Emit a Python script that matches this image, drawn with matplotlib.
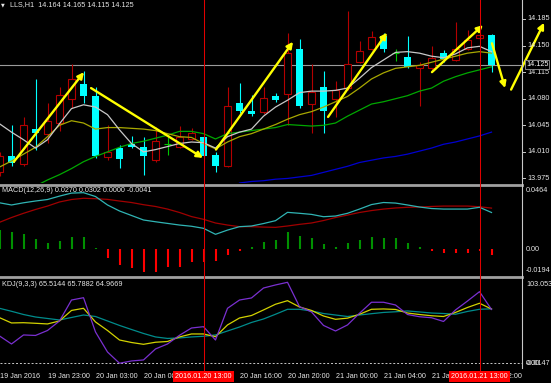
import numpy as np
import matplotlib.pyplot as plt
from matplotlib.lines import Line2D
from matplotlib.transforms import blended_transform_factory

plt.rcParams['font.family'] = ['Liberation Sans', 'DejaVu Sans']

W, H = 551, 383
AXIS_X = 522  # pixel where the price scale starts
FS = 5.2
TXT = '#e6e6e6'

# H1 candles, index 0 = 19 Jan 2016 19:00
opens = [13.983, 14.005, 13.994, 14.040, 14.034, 14.048, 14.079, 14.100, 14.083, 14.003,
         14.015, 14.021, 14.016, 13.999, 14.020, 14.017, 14.027, 14.030, 14.006, 13.992,
         14.075, 14.064, 14.063, 14.083, 14.086, 14.145, 14.073, 14.095, 14.079, 14.094,
         14.129, 14.146, 14.162, 14.140, 14.135, 14.120, 14.120, 14.140, 14.131, 14.146,
         14.160, 14.164]
highs = [14.010, 14.046, 14.056, 14.106, 14.075, 14.096, 14.126, 14.116, 14.096, 14.046,
         14.019, 14.031, 14.029, 14.043, 14.030, 14.044, 14.041, 14.031, 14.010, 14.096,
         14.101, 14.085, 14.096, 14.088, 14.166, 14.158, 14.126, 14.116, 14.103, 14.196,
         14.156, 14.169, 14.167, 14.145, 14.162, 14.129, 14.149, 14.144, 14.181, 14.171,
         14.172, 14.165]
lows = [13.978, 13.992, 13.992, 14.013, 14.022, 14.037, 14.068, 14.074, 14.002, 13.999,
        13.989, 14.015, 13.980, 13.997, 14.006, 14.015, 14.025, 14.003, 13.984, 13.990,
        14.061, 14.057, 14.060, 14.076, 14.046, 14.068, 14.035, 14.035, 14.056, 14.092,
        14.127, 14.144, 14.142, 14.130, 14.120, 14.070, 14.116, 14.129, 14.130, 14.144,
        14.157, 14.115]
closes = [14.004, 13.995, 14.045, 14.035, 14.051, 14.085, 14.106, 14.084, 14.004, 14.010,
          14.000, 14.017, 14.004, 14.024, 14.020, 14.030, 14.035, 14.005, 13.992, 14.071,
          14.064, 14.060, 14.081, 14.078, 14.140, 14.071, 14.089, 14.064, 14.091, 14.126,
          14.143, 14.161, 14.145, 14.140, 14.122, 14.125, 14.134, 14.132, 14.146, 14.157,
          14.164, 14.125]

# moving averages
ma_fast = [14.047, 14.036, 14.026, 14.015, 14.026, 14.047, 14.067, 14.072, 14.069, 14.059,
           14.039, 14.021, 14.010, 14.013, 14.017, 14.021, 14.023, 14.022, 14.015, 14.030,
           14.036, 14.040, 14.057, 14.069, 14.078, 14.088, 14.090, 14.090, 14.091, 14.094,
           14.107, 14.121, 14.131, 14.141, 14.142, 14.140, 14.136, 14.134, 14.139, 14.147,
           14.149, 14.142]
ma_mid = [13.990, 13.998, 14.007, 14.016, 14.030, 14.045, 14.051, 14.048, 14.040, 14.042,
          14.042, 14.041, 14.040, 14.038, 14.034, 14.030, 14.029, 14.021, 14.014, 14.023,
          14.030, 14.034, 14.040, 14.046, 14.053, 14.059, 14.063, 14.069, 14.076, 14.083,
          14.094, 14.106, 14.114, 14.120, 14.122, 14.124, 14.128, 14.132, 14.136, 14.140,
          14.142, 14.140]
ma_slow = [np.nan, np.nan, np.nan, 13.965, 13.973, 13.980, 13.988, 13.997, 14.004, 14.010,
           14.016, 14.021, 14.024, 14.028, 14.032, 14.037, 14.037, 14.034, 14.027, 14.034,
           14.036, 14.038, 14.040, 14.042, 14.046, 14.045, 14.044, 14.045, 14.048, 14.057,
           14.065, 14.073, 14.076, 14.080, 14.084, 14.090, 14.094, 14.103, 14.109, 14.114,
           14.118, 14.122]
ma_long = [np.nan] * 20 + [13.969, 13.971, 13.972, 13.974, 13.975, 13.977, 13.979, 13.983,
                           13.987, 13.991, 13.996, 13.999, 14.002, 14.004, 14.007, 14.011,
                           14.015, 14.020, 14.023, 14.027, 14.031, 14.036]

# drawn trend arrows (candle index, price)
arrow_x0 = [1.2, 7.63, 18.04, 27.38, 36.04, 41.04, 42.63]
arrow_y0 = [13.997, 14.094, 14.013, 14.056, 14.115, 14.153, 14.092]
arrow_x1 = [7.04, 16.96, 24.46, 32.29, 40.29, 42.13, 45.38]
arrow_y1 = [14.115, 14.002, 14.155, 14.167, 14.177, 14.094, 14.180]

price_ticks = [14.185, 14.150, 14.115, 14.080, 14.045, 14.010, 13.975]
last_price = 14.125

# MACD(12,26,9)
macd_hist = [0.0140, 0.0129, 0.0110, 0.0075, 0.0048, 0.0063, 0.0092, 0.0092, 0.0010, -0.0062,
             -0.0115, -0.0139, -0.0164, -0.0164, -0.0132, -0.0132, -0.0091, -0.0091, -0.0084, -0.0042,
             -0.0010, 0.0019, 0.0051, 0.0068, 0.0129, 0.0097, 0.0081, 0.0039, 0.0019, 0.0044,
             0.0068, 0.0092, 0.0085, 0.0081, 0.0048, 0.0019, -0.0010, -0.0025, -0.0025, -0.0025,
             -0.0010, -0.0041]
macd_main = [0.0341, 0.0325, 0.0341, 0.0354, 0.0365, 0.0390, 0.0412, 0.0415, 0.0387, 0.0325,
             0.0281, 0.0248, 0.0215, 0.0202, 0.0190, 0.0178, 0.0169, 0.0154, 0.0110, 0.0141,
             0.0166, 0.0171, 0.0189, 0.0210, 0.0271, 0.0264, 0.0256, 0.0239, 0.0244, 0.0264,
             0.0295, 0.0328, 0.0343, 0.0339, 0.0325, 0.0310, 0.0299, 0.0295, 0.0295, 0.0295,
             0.0308, 0.0270]
macd_signal = [0.0198, 0.0233, 0.0264, 0.0292, 0.0317, 0.0347, 0.0365, 0.0374, 0.0371, 0.0366,
               0.0354, 0.0343, 0.0327, 0.0314, 0.0295, 0.0270, 0.0240, 0.0220, 0.0193, 0.0178,
               0.0166, 0.0166, 0.0163, 0.0161, 0.0171, 0.0183, 0.0193, 0.0211, 0.0233, 0.0251,
               0.0270, 0.0284, 0.0295, 0.0303, 0.0308, 0.0310, 0.0314, 0.0317, 0.0317, 0.0317,
               0.0312, 0.0302]

# KDJ(9,3,3)
kdj_j = [33.0, 23.3, 34.2, 33.6, 39.6, 51.1, 76.4, 79.2, 37.8, 13.6,
         0.0, 2.8, 4.0, 17.3, 23.3, 33.8, 42.6, 44.2, 28.1, 66.4,
         76.4, 78.9, 90.9, 94.6, 97.8, 68.4, 62.0, 45.7, 39.0, 46.3,
         60.4, 73.7, 73.7, 70.4, 58.9, 56.2, 55.0, 50.5, 64.4, 75.2,
         86.5, 64.97]
kdj_k = [55.1, 48.7, 49.0, 48.3, 47.5, 51.1, 63.8, 66.4, 49.9, 39.6,
         28.1, 25.1, 22.9, 25.4, 26.3, 31.8, 35.4, 35.4, 32.1, 46.3,
         54.7, 57.7, 64.4, 71.3, 75.6, 68.0, 63.8, 57.1, 53.1, 54.5,
         59.2, 65.2, 65.6, 65.0, 60.7, 58.9, 57.4, 56.5, 61.4, 67.4,
         72.5, 65.51]
kdj_d = [66.4, 62.8, 58.9, 55.9, 54.1, 52.3, 55.3, 58.3, 56.5, 51.1,
         45.7, 40.8, 36.0, 31.8, 30.0, 30.6, 31.8, 32.6, 34.2, 39.0,
         43.8, 49.3, 53.5, 59.2, 65.2, 65.2, 63.2, 60.1, 58.3, 56.5,
         58.3, 59.9, 61.4, 62.2, 63.2, 62.0, 60.7, 60.1, 59.2, 62.6,
         65.2, 65.79]

time_idx = [0, 4, 8, 12, 16, 20, 24, 28, 32, 36, 40]
time_labels = ['19 Jan 2016', '19 Jan 23:00', '20 Jan 03:00', '20 Jan 08:00', '20 Jan 12:00',
               '20 Jan 16:00', '20 Jan 20:00', '21 Jan 00:00', '21 Jan 04:00', '21 Jan 08:00',
               '21 Jan 12:00']
marked_idx = [17, 40]
marked_labels = ['2016.01.20 13:00', '2016.01.21 13:00']


def box(x0, y0, x1, y1):
    # pixel box (top-left origin) -> figure fraction rect
    return [x0 / W, 1 - y1 / H, (x1 - x0) / W, (y1 - y0) / H]


def fy(y):
    return 1 - y / H


fig = plt.figure(figsize=(W / 100, H / 100), dpi=100, facecolor='black')
ax = fig.add_axes(box(0, 0, AXIS_X, 183))
ax_macd = fig.add_axes(box(0, 186, AXIS_X, 275))
ax_kdj = fig.add_axes(box(0, 278, AXIS_X, 366))
for a in (ax, ax_macd, ax_kdj):
    a.set_facecolor('black')
    a.set_xlim(0.5 / 12, (AXIS_X + 0.5) / 12)
    a.set_xticks([])
    a.set_yticks([])
    for s in a.spines.values():
        s.set_visible(False)

ax.set_ylim(13.969, 14.210)
ax_macd.set_ylim(-0.0188, 0.0464)
ax_kdj.set_ylim(-3.3, 103.0)

idx = np.arange(len(closes))
o, h, l, c = map(np.array, (opens, highs, lows, closes))
lo_b, hi_b = np.minimum(o, c), np.maximum(o, c)
up, dn, fl = c > o, c < o, c == o
BULL, BEAR, DOJI = '#b40000', '#00ffff', '#00c800'

# candles
ax.vlines(idx[up], l[up], lo_b[up], color=BULL, lw=0.8, zorder=2)
ax.vlines(idx[up], hi_b[up], h[up], color=BULL, lw=0.8, zorder=2)
ax.bar(idx[up], (hi_b - lo_b)[up], bottom=lo_b[up], width=0.6,
       facecolor='black', edgecolor=BULL, linewidth=0.8, zorder=2)
ax.vlines(idx[dn], l[dn], h[dn], color=BEAR, lw=0.8, zorder=2)
ax.bar(idx[dn], (hi_b - lo_b)[dn], bottom=lo_b[dn], width=0.6,
       color=BEAR, linewidth=0, zorder=2)
ax.vlines(idx[fl], l[fl], h[fl], color=DOJI, lw=0.8, zorder=2)
ax.hlines(c[fl], idx[fl] - 0.33, idx[fl] + 0.33, color=DOJI, lw=0.8, zorder=2)

# moving averages
ax.plot(idx, ma_long, color='#0000d0', lw=0.9, zorder=3)
ax.plot(idx, ma_slow, color='#00a800', lw=0.9, zorder=3)
ax.plot(idx, ma_mid, color='#a8a800', lw=0.9, zorder=3)
ax.plot(idx, ma_fast, color='#c8c8c8', lw=0.9, zorder=3)

ax.axhline(last_price, color='#9a9a9a', lw=0.8, zorder=1)

for x0, y0, x1, y1 in zip(arrow_x0, arrow_y0, arrow_x1, arrow_y1):
    ann = ax.annotate('', xy=(x1, y1), xytext=(x0, y0), annotation_clip=False,
                      arrowprops=dict(arrowstyle='-|>', color='#ffff00', lw=1.7,
                                      mutation_scale=9, shrinkA=0, shrinkB=0))
    ann.arrow_patch.set_clip_on(False)
    ann.set_zorder(5)

# MACD panel
hist = np.array(macd_hist)
pos = hist >= 0
ax_macd.vlines(idx[pos], 0, hist[pos], color='#009000', lw=1.5, zorder=2)
ax_macd.vlines(idx[~pos], 0, hist[~pos], color='#ff0000', lw=1.5, zorder=2)
ax_macd.plot(idx, macd_signal, color='#a00000', lw=0.9, zorder=3)
ax_macd.plot(idx, macd_main, color='#30b4b4', lw=0.9, zorder=3)

# KDJ panel
ax_kdj.axhline(0, color='#c8c8c8', lw=0.7, ls=(0, (2, 2)), zorder=1)
ax_kdj.plot(idx, kdj_d, color='#008c8c', lw=0.9, zorder=3)
ax_kdj.plot(idx, kdj_k, color='#d2d200', lw=0.9, zorder=3)
ax_kdj.plot(idx, kdj_j, color='#7a30d0', lw=0.9, zorder=3)

# red period separators
for m in marked_idx:
    xpix = 12 * m - 0.5
    fig.add_artist(Line2D([xpix / W] * 2, [fy(0), fy(372)], color='#e00000', lw=0.75, zorder=4))

# window separators and price-scale line
for ys in (184.5, 276.5):
    fig.add_artist(Line2D([0, AXIS_X / W], [fy(ys)] * 2, color='#a0a0a0', lw=2.0))
fig.add_artist(Line2D([AXIS_X / W] * 2, [fy(0), fy(368)], color='#c8c8c8', lw=0.8))

# price scale labels
tr = blended_transform_factory(fig.transFigure, ax.transData)
for p in price_ticks:
    fig.add_artist(Line2D([AXIS_X / W, (AXIS_X + 3) / W], [p, p], transform=tr, color='#c8c8c8', lw=0.7))
    fig.text((AXIS_X + 5) / W, p, f'{p:.3f}', transform=tr, color=TXT, fontsize=FS, va='center')
fig.text((AXIS_X + 4) / W, last_price, f'{last_price:.3f}', transform=tr, color='white', fontsize=FS,
         va='center', zorder=6,
         bbox=dict(boxstyle='square,pad=0.15', facecolor='black', edgecolor='#9a9a9a', lw=0.6))

for s, y in (('0.0464', 190), ('0.00', 249.3), ('-0.0194', 270), ('103.0533', 284),
             ('0.00', 363.3), ('-0.0147', 363.3)):
    fig.text((AXIS_X + 4) / W, fy(y), s, color=TXT, fontsize=FS, va='center')

# indicator headers
fig.text(1 / W, fy(5), '\u25bc', color=TXT, fontsize=3.5, va='center', family='DejaVu Sans')
fig.text(10 / W, fy(5), 'LLS,H1  14.164 14.165 14.115 14.125', color=TXT, fontsize=FS, va='center')
fig.text(2 / W, fy(191), 'MACD(12,26,9) 0.0270 0.0302 0.0000 -0.0041', color=TXT, fontsize=FS,
         va='center', zorder=6)
fig.text(2 / W, fy(284), 'KDJ(9,3,3) 65.5144 65.7882 64.9669', color=TXT, fontsize=FS, va='center', zorder=6)

# time axis
tt = blended_transform_factory(ax_kdj.transData, fig.transFigure)
for i, s in zip(time_idx, time_labels):
    fig.text(i + 0.06, fy(376), s, transform=tt, color=TXT, fontsize=FS, va='center', zorder=2)
for i, s in zip(marked_idx, marked_labels):
    fig.text(i, fy(376.5), s, transform=tt, color='white', fontsize=FS, va='center', ha='center',
             zorder=5, bbox=dict(boxstyle='square,pad=0.25', facecolor='#ff0000', edgecolor='none'))

fig.savefig('out.png', dpi=100, facecolor='black')
